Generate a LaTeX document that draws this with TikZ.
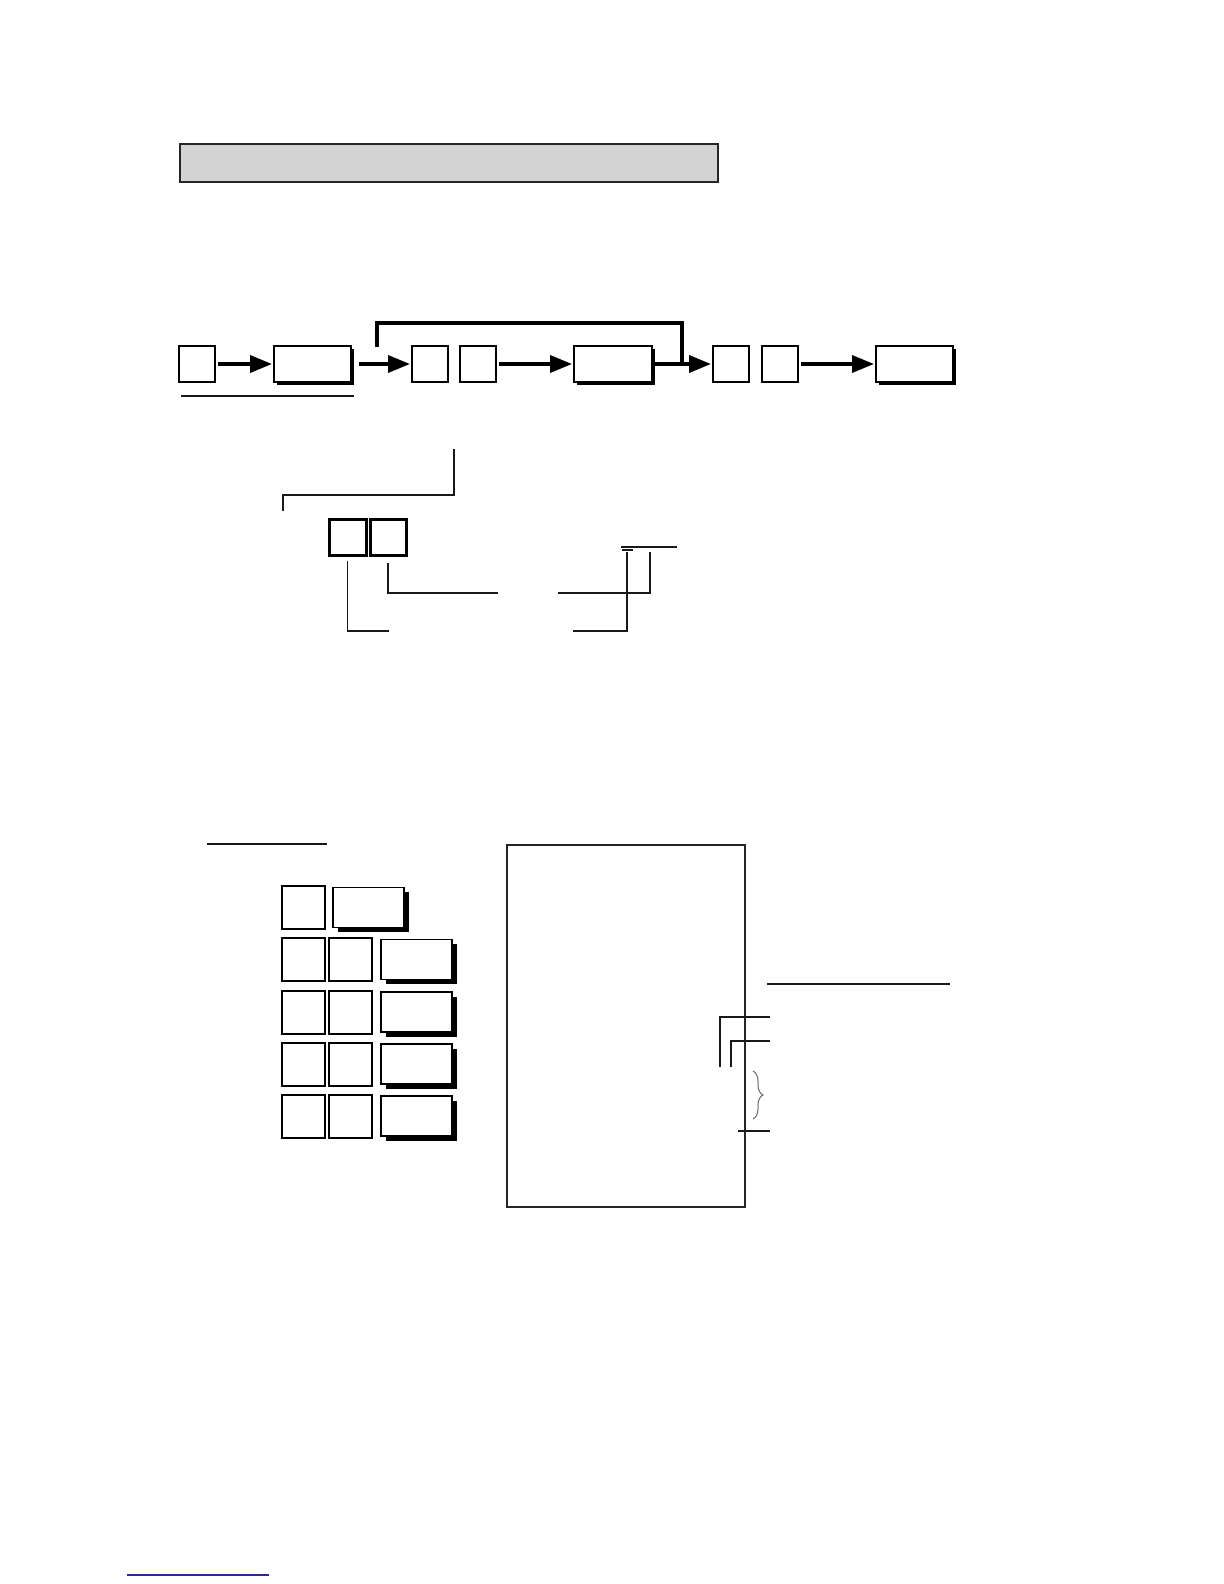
\documentclass[tikz,border=0pt]{standalone}
\usepackage{tikz}
\usetikzlibrary{arrows.meta, positioning, shadows, decorations.pathreplacing}
\definecolor{kopfgrau}{RGB}{211,211,211}
\definecolor{linkblau}{RGB}{40,40,160}

\begin{document}
\begin{tikzpicture}[
    x=0.5bp, y=-0.5bp,
    node distance = 30bp and 30bp,
    tast/.style = {rectangle, draw, line width=1bp, fill=white, inner sep=0pt, outer sep=0pt, minimum width=18bp, minimum height=18bp},
    tastw/.style = {tast, minimum width=38.5bp, drop shadow={shadow xshift=1.5bp, shadow yshift=-1.5bp, fill=black, opacity=1}},
    tastq/.style = {tast, line width=0.9bp, minimum width=21.5bp, minimum height=21.5bp},
    tastk/.style = {tastq, minimum width=35.5bp, minimum height=20bp, drop shadow={shadow xshift=2.25bp, shadow yshift=-2.25bp, fill=black, opacity=1}},
    kopf/.style = {rectangle, draw=black!85, line width=1bp, fill=kopfgrau, minimum width=269bp, minimum height=19bp},
    bon/.style = {rectangle, draw=black!85, line width=1.25bp, minimum width=119bp, minimum height=181bp},
    pil/.style = {black, line width=1.75bp, -{Triangle[length=11bp, width=8.5bp]}, shorten <=1.5bp, shorten >=1bp},
    buegel/.style = {black, line width=2bp},
    lead/.style = {black!90, line width=0.75bp},
    ]

  \useasboundingbox (0,0) rectangle (1224,1584);

  % header bar
  \node[kopf] (kopf) at (449,163) {};

  % key sequence
  \node[tast] (a1) at (197,364) {};
  \node[tastw] (b1) [right=29.5bp of a1] {};
  \node[tast] (c1) [right=30.5bp of b1] {};
  \node[tast] (c2) [right=6bp of c1] {};
  \node[tastw, minimum width=39bp] (d1) [right=39bp of c2] {};
  \node[tast] (e1) [right=30.5bp of d1] {};
  \node[tast] (e2) [right=6.5bp of e1] {};
  \node[tastw] (f1) [right=39bp of e2] {};

  \draw[pil] (a1) -- (b1);
  \draw[pil, shorten <=4bp] (b1) -- (c1);
  \draw[pil] (c2) -- (d1);
  \draw[pil] (d1) -- (e1);
  \draw[pil] (e2) -- (f1);

  \coordinate (brA) at (377,347);
  \coordinate (brB) at (682,364);
  \draw[buegel] (brA) -- ++(0,-24) -| (brB);

  \coordinate (ul1) at (181,396);
  \draw[lead] (ul1) -- ++(173,0);

  % explanation of the two digits
  \coordinate (m1) at (454,449);
  \draw[lead] (m1) -- ++(0,46) -| ++(-171,16);

  \node[tast, line width=1.5bp, minimum width=18.5bp] (g1) at (347.5,537) {};
  \node[tast, line width=1.5bp] (g2) [right=2bp of g1] {};

  \coordinate (l1) at (389,631);
  \coordinate (l2) at (498,593);
  \draw[lead] ([yshift=-3bp]g1.south) |- (l1);
  \draw[lead] ([yshift=-4bp]g2.south) |- (l2);

  \coordinate (r1) at (558,593);
  \coordinate (r2) at (573,631);
  \draw[lead] (r1) -| ++(92,-41);
  \draw[lead] (r2) -| ++(54,-79);
  \coordinate (t1) at (621,547);
  \draw[lead] (t1) -- ++(56,0);
  \draw[lead] (622,550) -- ++(11,0);

  % example
  \coordinate (ul2) at (207,844);
  \draw[lead] (ul2) -- ++(120,0);

  \node[tastq] (k11) at (303.5,907.5) {};
  \node[tastk] (k12) [right=4bp of k11] {};

  \node[tastq] (k21) [below=4.5bp of k11] {};
  \node[tastq] (k22) [right=2bp of k21] {};
  \node[tastk] (k23) [right=4.5bp of k22] {};

  \node[tastq] (k31) [below=4.8bp of k21] {};
  \node[tastq] (k32) [right=2bp of k31] {};
  \node[tastk] (k33) [right=4.5bp of k32] {};

  \node[tastq] (k41) [below=4.5bp of k31] {};
  \node[tastq] (k42) [right=2bp of k41] {};
  \node[tastk] (k43) [right=4.5bp of k42] {};

  \node[tastq] (k51) [below=4.5bp of k41] {};
  \node[tastq] (k52) [right=2bp of k51] {};
  \node[tastk] (k53) [right=4.5bp of k52] {};

  % receipt
  \node[bon] (bon) at (626,1026) {};

  \coordinate (ul3) at (767,984);
  \draw[lead] (ul3) -- ++(183,0);
  \coordinate (q1) at (770,1017);
  \coordinate (q2) at (770,1041);
  \draw[lead] (q1) -| ++(-50,50);
  \draw[lead] (q2) -| ++(-39,26);
  \draw[black!60, line width=0.5bp, decorate, decoration={brace, amplitude=5bp}] (753,1071) -- (753,1119);
  \coordinate (q3) at (738,1131);
  \draw[lead] (q3) -- ++(32,0);

  \coordinate (lk) at (127,1575);
  \draw[linkblau, line width=0.75bp] (lk) -- ++(142,0);

\end{tikzpicture}
\end{document}
